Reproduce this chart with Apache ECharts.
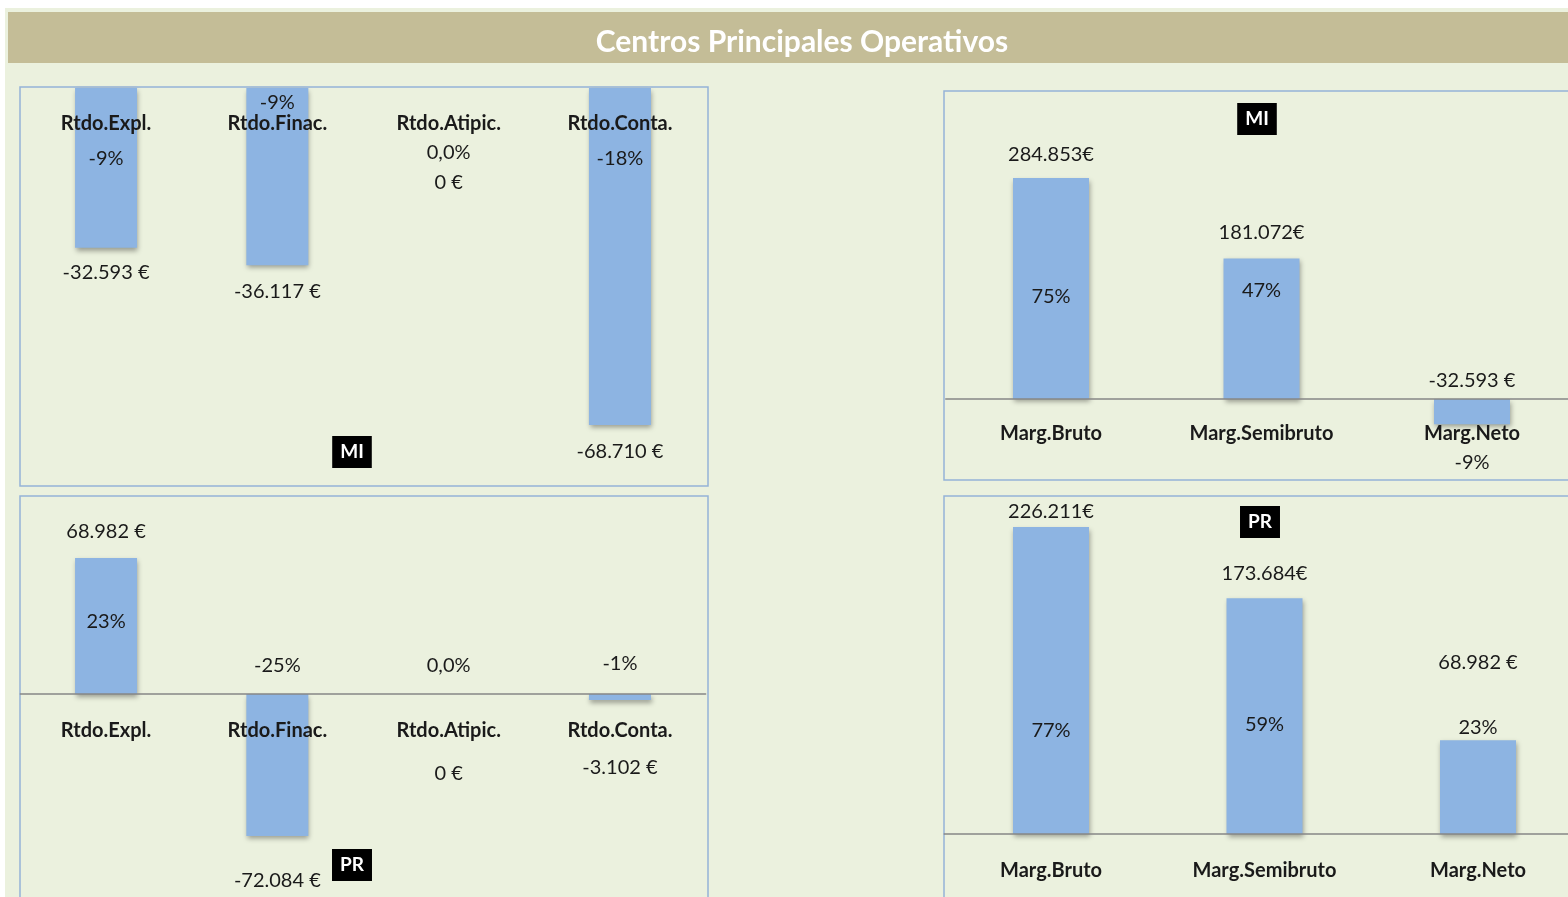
<!DOCTYPE html>
<html>
<head>
<meta charset="utf-8">
<title>Centros Principales Operativos</title>
<script src="https://cdn.jsdelivr.net/npm/echarts@6/dist/echarts.min.js"></script>
<style>
    html, body { margin: 0; padding: 0; background: #fff; }
    #chart { width: 1568px; height: 897px; }
</style>
</head>
<body>
<div id="chart"></div>
<script>
// categorías
const catRtdo = ['Rtdo.Expl.', 'Rtdo.Finac.', 'Rtdo.Atipic.', 'Rtdo.Conta.'];
const catMarg = ['Marg.Bruto', 'Marg.Semibruto', 'Marg.Neto'];

// MI
const rtdoMI = [-32593, -36117, 0, -68710];
const rtdoMIPct = [-9, -9, 0, -18];
const margMI = [284853, 181072, -32593];
const margMIPct = [75, 47, -9];

// PR
const rtdoPR = [68982, -72084, 0, -3102];
const rtdoPRPct = [23, -25, 0, -1];
const margPR = [226211, 173684, 68982];
const margPRPct = [77, 59, 23];

const FONT = 'Lato';
const FS = 20;
const BAR = '#8DB4E2';
const BORDER = '#95B3D7';

// formatos
const fmtEur = (v) => {
    const s = Math.abs(v).toString().replace(/\B(?=(\d{3})+(?!\d))/g, '.');
    return (v < 0 ? '-' : '') + s + (Math.abs(v) >= 100000 ? '€' : ' €');
}
const fmtPct = (v) => v === 0 ? '0,0%' : v + '%';

// posición de las etiquetas (colocadas a mano como en el original)
const eurPlace = [
    [['bottom', 10], ['bottom', 11], ['bottom', 80], ['bottom', 12]],
    [['top', -8], ['top', -11], ['top', -3]],
    [['top', -11], ['bottom', 29], ['bottom', 65], ['bottom', 52]],
    [['top', 0], ['top', -10], ['top', -63]]
];
const pctPlace = [
    [['insideTop', 56], ['insideTop', 0], ['insideTop', 50], ['insideTop', 56]],
    [['insideTop', 104], ['insideTop', 17], ['bottom', 23]],
    [['insideTop', 49], ['top', -13], ['top', -13], ['top', -15]],
    [['insideTop', 189], ['insideTop', 111], ['top', 2]]
];

const labelBase = {
    show: true,
    fontFamily: FONT,
    fontSize: FS,
    color: '#1a1a1a',
    distance: 5
}

const items = (values, place, texts) => values.map((v, i) => ({
    value: v,
    label: {
        ...labelBase,
        position: place[i][0],
        offset: [0, place[i][1]],
        formatter: () => texts[i]
    }
}))

const charts = [
    { cats: catRtdo, vals: rtdoMI, pct: rtdoMIPct, min: -80000, max: 0, barWidth: 62, margin: 26, line: false,
      grid: { left: 20.4, top: 88, width: 685.2, height: 392.4 } },
    { cats: catMarg, vals: margMI, pct: margMIPct, min: -100000, max: 300000, barWidth: 76, margin: 25, line: true,
      grid: { left: 945.75, top: 166.2, width: 631.5, height: 310.4 } },
    { cats: catRtdo, vals: rtdoPR, pct: rtdoPRPct, min: -100000, max: 100000, barWidth: 62, margin: 27, line: true,
      grid: { left: 20.4, top: 496.85, width: 685.2, height: 394.3 } },
    { cats: catMarg, vals: margPR, pct: margPRPct, min: -50000, max: 250000, barWidth: 76, margin: 27, line: true,
      grid: { left: 944.25, top: 494.7, width: 640.5, height: 407.1 } }
];

const grid = [], xAxis = [], yAxis = [], series = [];
charts.forEach((c, k) => {
    grid.push({ ...c.grid, outerBoundsMode: 'none', containLabel: false });
    // el eje de categorías se sube hasta el cero de la escala
    const zeroShift = c.grid.height * (0 - c.min) / (c.max - c.min);
    xAxis.push({
        type: 'category',
        gridIndex: k,
        data: c.cats,
        position: 'bottom',
        offset: -zeroShift,
        z: 5,
        axisLine: { show: c.line, onZero: false, lineStyle: { color: '#868686', width: 1.5 } },
        axisTick: { show: false },
        axisLabel: {
            margin: c.margin,
            fontFamily: FONT,
            fontWeight: 'bold',
            fontSize: FS,
            color: '#1a1a1a',
            interval: 0
        }
    });
    yAxis.push({
        type: 'value',
        gridIndex: k,
        min: c.min,
        max: c.max,
        show: false,
        splitLine: { show: false }
    });
    series.push({
        type: 'bar',
        xAxisIndex: k,
        yAxisIndex: k,
        barWidth: c.barWidth,
        data: items(c.vals, eurPlace[k], c.vals.map(fmtEur)),
        itemStyle: {
            color: BAR,
            shadowColor: 'rgba(0,0,0,0.35)',
            shadowBlur: 5,
            shadowOffsetX: 1,
            shadowOffsetY: 3
        },
        z: 2
    });
    // etiquetas de porcentaje sobre barras transparentes
    series.push({
        type: 'bar',
        xAxisIndex: k,
        yAxisIndex: k,
        barWidth: c.barWidth,
        barGap: '-100%',
        data: items(c.vals, pctPlace[k], c.pct.map(fmtPct)),
        itemStyle: { color: 'rgba(0,0,0,0)' },
        z: 3
    });
});

const badge = (text, x, y) => ({
    type: 'text',
    x: x,
    y: y,
    z: 20,
    style: {
        text: text,
        fill: '#fff',
        font: 'bold 19px ' + FONT,
        align: 'center',
        verticalAlign: 'middle',
        backgroundColor: '#000',
        padding: [7, 8, 6, 8]
    }
})

const panel = (x, y, w, h) => ({
    type: 'rect',
    z: 1,
    shape: { x: x, y: y, width: w, height: h },
    style: { fill: 'none', stroke: BORDER, lineWidth: 1.5 }
})

const myChart = echarts.init(document.getElementById('chart'));
myChart.setOption({
    animation: false,
    title: {
        text: 'Centros Principales Operativos',
        left: 797,
        top: 22,
        textAlign: 'center',
        textStyle: { color: '#fff', fontFamily: FONT, fontWeight: 'bold', fontSize: 30 },
        z: 10
    },
    graphic: [
        { type: 'rect', z: -10, shape: { x: 5, y: 8, width: 1570, height: 900 }, style: { fill: '#EBF1DE' } },
        { type: 'rect', z: -9, shape: { x: 8, y: 12, width: 1565, height: 51 }, style: { fill: '#C4BD97' } },
        panel(20, 87, 688, 399),
        panel(944, 91, 640, 389),
        panel(20, 496, 688, 420),
        panel(944, 496, 640, 420),
        badge('MI', 352, 452),
        badge('MI', 1257, 119),
        badge('PR', 352, 865),
        badge('PR', 1260, 522)
    ],
    grid: grid,
    xAxis: xAxis,
    yAxis: yAxis,
    series: series
});
</script>
</body>
</html>
